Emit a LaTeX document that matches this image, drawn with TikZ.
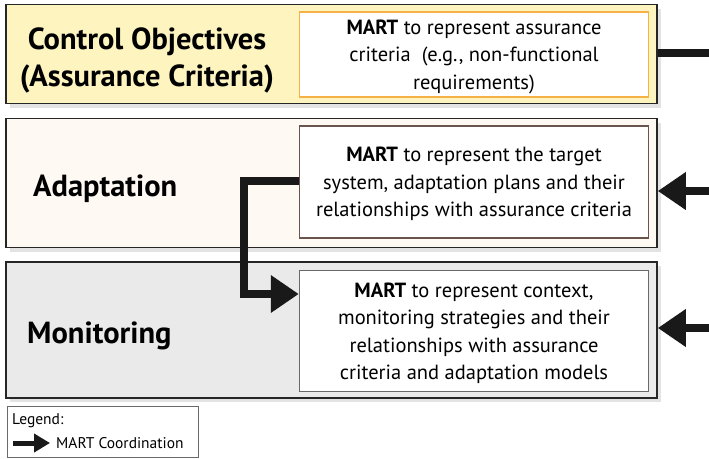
\documentclass[tikz,border=0pt]{standalone}
\usepackage{fontspec}
\setmainfont{PT Sans}
\usetikzlibrary{shadows,arrows.meta}
\definecolor{cobjfill}{RGB}{253,244,192}
\definecolor{adaptfill}{RGB}{255,249,244}
\definecolor{monfill}{RGB}{234,234,234}
\definecolor{orangeedge}{RGB}{246,178,70}
\definecolor{brownedge}{RGB}{105,85,75}
\definecolor{greyedge}{RGB}{105,105,105}
\definecolor{arrowblack}{RGB}{25,25,25}
\begin{document}
\begin{tikzpicture}[x=1pt,y=-1pt,
  panel/.style={draw=black!85, line width=1.6pt, inner sep=0pt,
    drop shadow={shadow xshift=4pt, shadow yshift=-4pt, opacity=0.22}},
  modelbox/.style={fill=white, line width=1.5pt, inner sep=0pt, align=center,
    font=\fontsize{20.5}{27.5}\selectfont, text depth=0pt},
  titletext/.style={font=\fontsize{30.5}{37}\selectfont\bfseries, align=center, inner sep=0pt},
  conn/.style={draw=arrowblack, line width=7.5pt, -{Triangle[length=28pt,width=36pt]}},
  plainline/.style={draw=arrowblack, line width=7.5pt}
]
\useasboundingbox (0,0) rectangle (709,458);
% panels
\node (cobj) [panel, fill=cobjfill, minimum width=651pt, minimum height=99pt] at (331.5,54) {};
\node (adapt) [panel, fill=adaptfill, minimum width=651pt, minimum height=129pt] at (331.5,183) {};
\node (mon) [panel, fill=monfill, minimum width=651pt, minimum height=136pt] at (331.5,330) {};
% titles
\node (cobjt) [titletext] at (147,60.5) {Control Objectives\\(Assurance Criteria)};
\node (adaptt) [titletext, anchor=west] at (33,189) {Adaptation};
\node (mont) [titletext, anchor=west] at (27,336) {Monitoring};
% model boxes
\node (cobjm) [modelbox, draw=orangeedge, minimum width=349pt, minimum height=85pt] at (474,54.5)
  {\textbf{MART} to represent assurance\\criteria\ \ (e.g., non-functional\\requirements)};
\node (adaptm) [modelbox, draw=brownedge, minimum width=349pt, minimum height=112pt] at (474,182)
  {\textbf{MART} to represent the target\\system, adaptation plans and their\\relationships with assurance criteria};
\node (monm) [modelbox, draw=greyedge, minimum width=349pt, minimum height=121pt] at (474,331)
  {\textbf{MART} to represent context,\\monitoring strategies and their\\relationships with assurance\\criteria and adaptation models};
% connectors
\coordinate (outC) at (709,53);
\coordinate (inA) at (709,191);
\coordinate (inM) at (709,328);
\draw[plainline] (cobj.east |- outC) -- (outC);
\draw[conn] (inA) -- (adapt.east |- inA);
\draw[conn] (inM) -- (mon.east |- inM);
\coordinate (elbowA) at (244,181);
\coordinate (elbowB) at (244,294);
\draw[conn] (adaptm.west |- elbowA) -- (elbowA) -- (elbowB) -- (monm.west |- elbowB);
% legend
\node (legend) [draw=greyedge, line width=0.8pt, fill=white, minimum width=191pt, minimum height=51pt, inner sep=0pt] at (102.5,431.5) {};
\node (legendt) [anchor=west, inner sep=0pt, font=\fontsize{15.5}{18}\selectfont] at (12,421) {Legend:};
\node (legendl) [anchor=west, inner sep=0pt, font=\fontsize{15.5}{18}\selectfont] at (56,443) {MART Coordination};
\coordinate (legA) at (13,443);
\draw[draw=arrowblack, line width=5pt, -{Triangle[length=16pt,width=18pt]}] (legA) -- ([xshift=-6pt]legendl.west);
\end{tikzpicture}
\end{document}
